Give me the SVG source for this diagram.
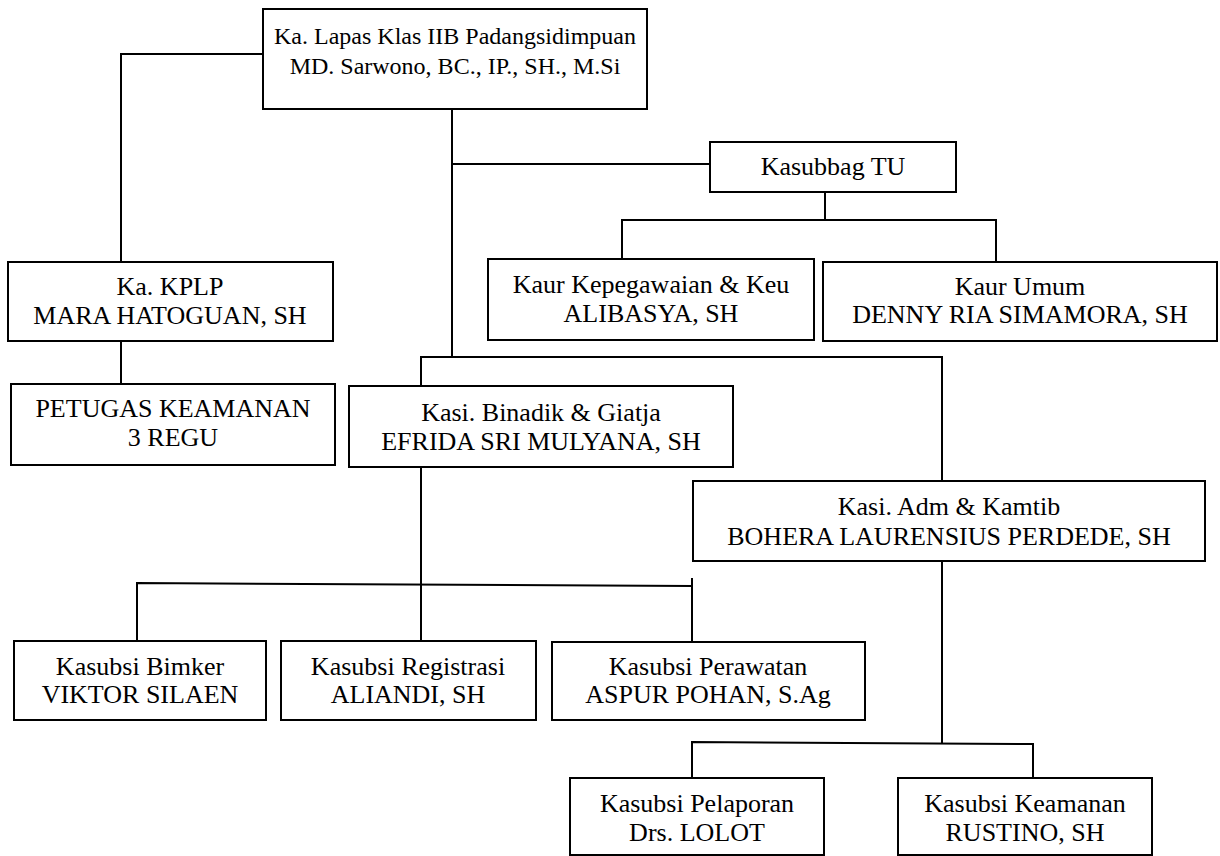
<svg xmlns="http://www.w3.org/2000/svg" width="1220" height="856" viewBox="0 0 1220 856">
<style>
  .box { fill: #ffffff; stroke: #000000; stroke-width: 2; }
  .ln { fill: none; stroke: #000000; stroke-width: 2; }
  .lbl { font-family: "Liberation Serif", "Times New Roman", "DejaVu Serif", serif; font-size: 26px; fill: #000000; text-anchor: middle; }
  .t24 { font-size: 24px; }
</style>
<rect x="0" y="0" width="1220" height="856" fill="#ffffff"/>
<g id="connectors">
  <polyline class="ln" points="263,54 121,54 121,262"/>
  <line class="ln" x1="121" y1="341" x2="121" y2="384"/>
  <line class="ln" x1="452" y1="109" x2="452" y2="357"/>
  <line class="ln" x1="452" y1="164" x2="710" y2="164"/>
  <line class="ln" x1="825" y1="192" x2="825" y2="220"/>
  <polyline class="ln" points="622,259 622,220 996,220 996,262"/>
  <polyline class="ln" points="421,386 421,357 942,357 942,481"/>
  <line class="ln" x1="421" y1="467" x2="421" y2="641"/>
  <polyline class="ln" points="137,641 137,583 692,586"/>
  <line class="ln" x1="692" y1="578" x2="692" y2="642"/>
  <line class="ln" x1="942" y1="561" x2="942" y2="743"/>
  <polyline class="ln" points="692,778 692,742 1033,744 1033,778"/>
</g>
<g id="n-kalapas" font-family="Liberation Serif, serif">
  <rect class="box" x="263" y="9" width="384" height="100"/>
  <text class="lbl t24" x="455" y="44">Ka. Lapas Klas IIB Padangsidimpuan</text>
  <text class="lbl t24" x="455" y="74">MD. Sarwono, BC., IP., SH., M.Si</text>
</g>
<g id="n-kplp" font-family="Liberation Serif, serif">
  <rect class="box" x="8" y="262" width="325" height="79"/>
  <text class="lbl" x="170" y="295">Ka. KPLP</text>
  <text class="lbl" x="170" y="324">MARA HATOGUAN, SH</text>
</g>
<g id="n-petugas" font-family="Liberation Serif, serif">
  <rect class="box" x="11" y="384" width="324" height="81"/>
  <text class="lbl" x="173" y="417">PETUGAS KEAMANAN</text>
  <text class="lbl" x="173" y="446">3 REGU</text>
</g>
<g id="n-kasubbag" font-family="Liberation Serif, serif">
  <rect class="box" x="710" y="142" width="246" height="50"/>
  <text class="lbl" x="833" y="175">Kasubbag TU</text>
</g>
<g id="n-kaurkepeg" font-family="Liberation Serif, serif">
  <rect class="box" x="488" y="259" width="326" height="81"/>
  <text class="lbl" x="651" y="293">Kaur Kepegawaian &amp; Keu</text>
  <text class="lbl" x="651" y="322">ALIBASYA, SH</text>
</g>
<g id="n-kaurumum" font-family="Liberation Serif, serif">
  <rect class="box" x="823" y="262" width="394" height="79"/>
  <text class="lbl" x="1020" y="295">Kaur Umum</text>
  <text class="lbl" x="1020" y="323">DENNY RIA SIMAMORA, SH</text>
</g>
<g id="n-binadik" font-family="Liberation Serif, serif">
  <rect class="box" x="349" y="386" width="384" height="81"/>
  <text class="lbl" x="541" y="421">Kasi. Binadik &amp; Giatja</text>
  <text class="lbl" x="541" y="450">EFRIDA SRI MULYANA, SH</text>
</g>
<g id="n-adm" font-family="Liberation Serif, serif">
  <rect class="box" x="693" y="481" width="512" height="80"/>
  <text class="lbl" x="949" y="515">Kasi. Adm &amp; Kamtib</text>
  <text class="lbl" x="949" y="545">BOHERA LAURENSIUS PERDEDE, SH</text>
</g>
<g id="n-bimker" font-family="Liberation Serif, serif">
  <rect class="box" x="14" y="641" width="252" height="79"/>
  <text class="lbl" x="140" y="675">Kasubsi Bimker</text>
  <text class="lbl" x="140" y="703">VIKTOR SILAEN</text>
</g>
<g id="n-registrasi" font-family="Liberation Serif, serif">
  <rect class="box" x="281" y="641" width="255" height="79"/>
  <text class="lbl" x="408" y="675">Kasubsi Registrasi</text>
  <text class="lbl" x="408" y="703">ALIANDI, SH</text>
</g>
<g id="n-perawatan" font-family="Liberation Serif, serif">
  <rect class="box" x="552" y="642" width="313" height="78"/>
  <text class="lbl" x="708" y="675">Kasubsi Perawatan</text>
  <text class="lbl" x="708" y="703">ASPUR POHAN, S.Ag</text>
</g>
<g id="n-pelaporan" font-family="Liberation Serif, serif">
  <rect class="box" x="570" y="778" width="254" height="77"/>
  <text class="lbl" x="697" y="812">Kasubsi Pelaporan</text>
  <text class="lbl" x="697" y="841">Drs. LOLOT</text>
</g>
<g id="n-keamanan" font-family="Liberation Serif, serif">
  <rect class="box" x="898" y="778" width="254" height="77"/>
  <text class="lbl" x="1025" y="812">Kasubsi Keamanan</text>
  <text class="lbl" x="1025" y="841">RUSTINO, SH</text>
</g>
</svg>
